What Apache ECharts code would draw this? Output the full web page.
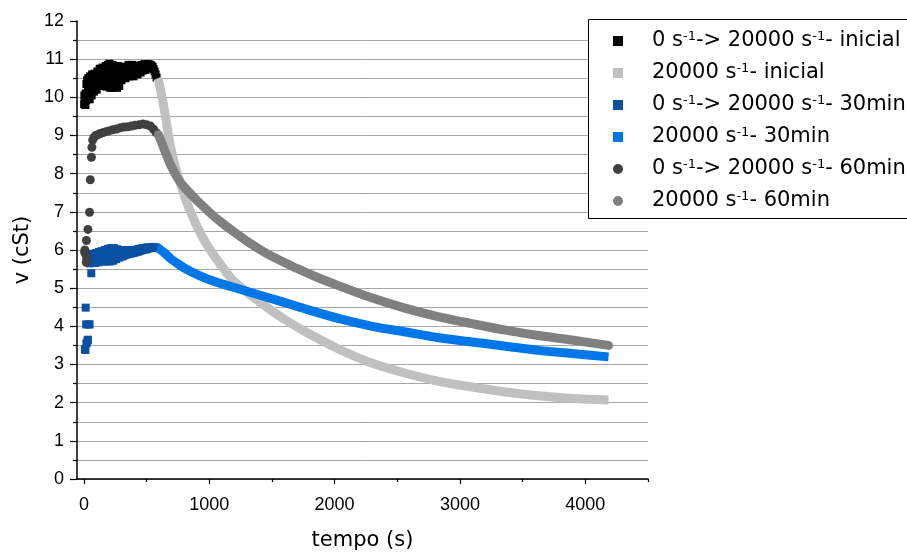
<!DOCTYPE html>
<html>
<head>
<meta charset="utf-8">
<script src="https://cdn.jsdelivr.net/npm/echarts@6/dist/echarts.min.js"></script>
<style>html,body{margin:0;padding:0;background:#fff}#c{width:907px;height:552px}</style>
</head>
<body>
<div id="c"></div>
<script>
// ---- data (t in s, v in cSt) ----
const seriesNames = [
  '0 s^-1-> 20000 s^-1- inicial',
  '20000 s^-1- inicial',
  '0 s^-1-> 20000 s^-1- 30min',
  '20000 s^-1- 30min',
  '0 s^-1-> 20000 s^-1- 60min',
  '20000 s^-1- 60min'
];
const xMajorTicks = [0, 1000, 2000, 3000, 4000];
const xMinorTicks = [500, 1500, 2500, 3500, 4500];

const ramp0Inicial = [
  [2,9.82],[4,10.05],[7,9.9],[9,10.0],[12,9.8],[14,10.1],[17,9.92],[20,10.35],[23,10.05],[26,10.45],
  [29,9.95],[32,10.2],[35,10.5],[38,10.0],[42,10.3],[46,9.95],[50,10.55],[54,10.15],[58,10.4],[62,10.05],
  [66,10.6],[70,10.25],[75,10.45],[80,10.15],[85,10.62],[90,10.3],[96,10.5],[102,10.2],[108,10.68],
  [114,10.35],[120,10.55],[126,10.75],[132,10.3],[138,10.6],[144,10.45],[150,10.78],[156,10.3],
  [162,10.65],[168,10.5],[174,10.82],[180,10.28],[186,10.6],[192,10.85],[198,10.4],[204,10.88],
  [210,10.25],[216,10.7],[222,10.5],[228,10.85],[234,10.25],[240,10.6],[246,10.8],[252,10.4],
  [258,10.7],[264,10.25],[270,10.82],[276,10.5],[282,10.3],[288,10.65],[294,10.8],[300,10.45],
  [308,10.7],[316,10.55],[324,10.8],[332,10.5],[340,10.72],[348,10.6],[356,10.85],[364,10.55],
  [372,10.75],[380,10.62],[388,10.85],[396,10.55],[404,10.75],[412,10.65],[420,10.82],[428,10.6],
  [436,10.72],[444,10.8],[452,10.65],[460,10.85],[468,10.7],[476,10.78],[484,10.87],[492,10.72],
  [500,10.85],[508,10.78],[516,10.87],[524,10.8],[532,10.85],[540,10.82],[548,10.8],[556,10.74],
  [564,10.68],[572,10.6],[580,10.52]
];
const const20kInicial = [
  [588,10.5],[596,10.43],[629,9.91],[656,9.39],[682,8.86],[717,8.34],[762,7.82],[815,7.29],[881,6.77],
  [961,6.25],[1067,5.72],[1186,5.22],[1319,4.85],[1452,4.52],[1584,4.22],[1771,3.85],[2036,3.4],
  [2301,3.03],[2567,2.77],[2832,2.56],[3097,2.41],[3363,2.28],[3628,2.18],[3893,2.11],[4185,2.07]
];
const ramp30min = [
  [8,3.4],[12,3.38],[20,3.55],[28,3.62],[32,3.65],[18,4.05],[38,4.05],[45,4.05],[14,4.49],[59,5.39],
  [46,5.65],[50,5.85],[55,5.72],[60,5.9],[66,5.66],[72,5.88],[78,5.7],[84,5.8],[90,5.66],[96,5.92],
  [102,5.72],[108,5.85],[114,5.68],[120,5.95],[126,5.75],[132,5.88],[138,5.7],[144,5.97],[150,5.72],
  [156,5.85],[162,5.7],[168,6.0],[174,5.74],[180,5.9],[186,5.7],[192,6.03],[198,5.76],[204,5.92],
  [210,5.7],[216,6.05],[222,5.78],[228,5.95],[234,5.72],[240,6.05],[246,5.8],[252,5.95],[258,5.76],
  [264,6.02],[270,5.82],[276,5.95],[282,5.8],[288,6.0],[294,5.85],[300,5.95],[308,5.83],[316,6.0],
  [324,5.86],[332,5.97],[340,5.88],[348,6.0],[356,5.9],[364,5.98],[372,5.9],[380,6.0],[388,5.92],
  [396,5.98],[404,5.93],[412,6.0],[420,5.95],[428,6.02],[436,5.96],[444,6.03],[452,5.98],[460,6.04],
  [468,6.0],[476,6.05],[484,6.01],[492,6.06],[500,6.02],[510,6.07],[520,6.04],[530,6.07],[540,6.06],
  [550,6.08],[560,6.07],[570,6.07],[580,6.06]
];
const const30min = [
  [585,6.05],[600,6.03],[640,5.93],[690,5.78],[750,5.64],[800,5.53],[921,5.33],[1054,5.16],[1186,5.03],
  [1319,4.9],[1452,4.77],[1584,4.64],[1771,4.45],[2036,4.2],[2301,4.0],[2567,3.85],[2832,3.7],
  [3097,3.59],[3363,3.48],[3628,3.37],[3893,3.29],[4185,3.2]
];
const ramp60min = [
  [6,5.94],[8,6.0],[12,5.9],[19,5.68],[22,5.78],[20,6.25],[32,6.54],[45,6.99],[51,7.84],[60,8.43],
  [64,8.69],[70,8.88],[80,8.95],[95,9.0],[110,9.02],[130,9.05],[150,9.07],[175,9.1],[200,9.12],
  [230,9.15],[260,9.17],[290,9.2],[320,9.22],[350,9.23],[380,9.25],[410,9.27],[440,9.28],[470,9.3],
  [500,9.28],[530,9.25],[555,9.17],[575,9.08]
];
const const60min = [
  [595,9.02],[620,8.82],[643,8.62],[670,8.4],[696,8.2],[748,7.88],[788,7.7],[828,7.55],[908,7.28],
  [1014,6.95],[1094,6.73],[1186,6.5],[1319,6.19],[1452,5.92],[1584,5.7],[1717,5.49],[1850,5.3],
  [2036,5.06],[2301,4.74],[2567,4.47],[2832,4.25],[3097,4.07],[3363,3.9],[3628,3.76],[3893,3.64],
  [4185,3.5]
];

const colors = ['#000000','#c0c0c0','#0a50a2','#0077e8','#404040','#808080'];

const chart = echarts.init(document.getElementById('c'), null, {renderer:'canvas'});

function scatterS(i, data, sym, size){
  return {name: seriesNames[i], type:'scatter', data: data, symbol: sym, symbolSize: size,
    itemStyle:{color: colors[i], opacity:1}, color: colors[i], silent:true, z: 2+i, animation:false};
}
function lineS(i, data, cap){
  return {name: seriesNames[i], type:'line', data: data, symbol:'none', smooth:0.3,
    color: colors[i], lineStyle:{color: colors[i], width:9, cap: cap, join:'round'},
    silent:true, z:2+i, animation:false};
}

const option = {
  animation:false,
  backgroundColor:'#fff',
  grid:{left:77, right:259, top:21, bottom:73, containLabel:false, outerBoundsMode:'none'},
  graphic:[{type:'rect', left:588, top:19, z:10, silent:true,
    shape:{width:340, height:199}, style:{fill:'#fff', stroke:'#000', lineWidth:1}}],
  legend:{
    orient:'vertical', left:588, top:20, selectedMode:false, z:11,
    padding:[10,40,7,25], itemWidth:10, itemHeight:10, itemGap:10,
    data:[
      {name:seriesNames[0], icon:'rect'},
      {name:seriesNames[1], icon:'rect'},
      {name:seriesNames[2], icon:'rect'},
      {name:seriesNames[3], icon:'rect'},
      {name:seriesNames[4], icon:'circle'},
      {name:seriesNames[5], icon:'circle'}
    ],
    formatter: function(n){ return n.split('^-1').join('{sup|-1}'); },
    textStyle:{fontFamily:'DejaVu Sans', fontSize:21, color:'#000', lineHeight:22, padding:[0,0,0,24],
      rich:{sup:{fontFamily:'DejaVu Sans', fontSize:13, verticalAlign:'top', lineHeight:13, color:'#000'}}}
  },
  xAxis:[
    {type:'value', min:-55, max:4500, position:'bottom',
     axisLine:{show:true, onZero:false, lineStyle:{color:'#000', width:1.5}},
     axisTick:{show:true, length:5, lineStyle:{color:'#000', width:1.2}, customValues: xMajorTicks},
     axisLabel:{show:true, margin:17, color:'#000', fontFamily:'Liberation Sans', fontSize:18,
       customValues: xMajorTicks, formatter: function(v){ return String(v); }},
     splitLine:{show:false},
     name:'tempo (s)', nameLocation:'middle', nameGap:51,
     nameTextStyle:{fontFamily:'DejaVu Sans', fontSize:21, color:'#000'}},
    {type:'value', min:-55, max:4500, position:'bottom',
     axisLine:{show:false},
     axisTick:{show:true, length:3, lineStyle:{color:'#000', width:1.2}, customValues: xMinorTicks},
     axisLabel:{show:false}, splitLine:{show:false}}
  ],
  yAxis:{type:'value', min:0, max:12, interval:1,
    axisLine:{show:true, onZero:false, lineStyle:{color:'#000', width:1.5}},
    axisTick:{show:true, length:7, lineStyle:{color:'#000', width:1.2}},
    minorTick:{show:true, splitNumber:2, length:4, lineStyle:{color:'#000', width:1.2}},
    axisLabel:{margin:13, color:'#000', fontFamily:'Liberation Sans', fontSize:18},
    splitLine:{show:true, lineStyle:{width:1, color:['#a6a6a6','#a6a6a6','#a6a6a6','#a6a6a6','#a6a6a6','#a6a6a6','#a6a6a6','#a6a6a6','#a6a6a6','#a6a6a6','#a6a6a6','#a6a6a6','rgba(0,0,0,0)']}},
    minorSplitLine:{show:true, lineStyle:{width:1, color:'#a6a6a6'}},
    name:'v (cSt)', nameLocation:'middle', nameGap:33,
    nameTextStyle:{fontFamily:'DejaVu Sans', fontSize:21, color:'#000'}},
  series:[
    scatterS(0, ramp0Inicial, 'rect', 8),
    lineS(1, const20kInicial, 'butt'),
    scatterS(2, ramp30min, 'rect', 8),
    lineS(3, const30min, 'butt'),
    scatterS(4, ramp60min, 'circle', 9),
    lineS(5, const60min, 'round')
  ]
};
chart.setOption(option);
</script>
</body>
</html>
